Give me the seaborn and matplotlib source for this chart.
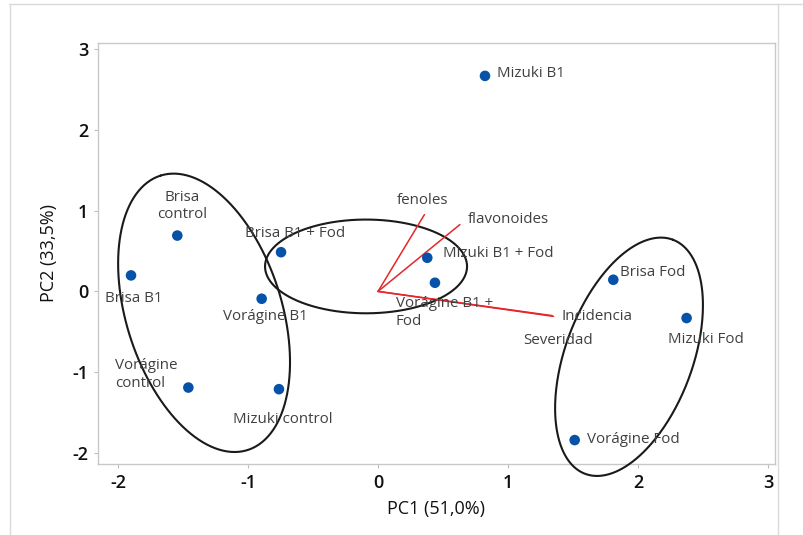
import numpy as np
import pandas as pd
import matplotlib
matplotlib.use("Agg")
import matplotlib.pyplot as plt
from matplotlib.lines import Line2D
import seaborn as sns

# ---------------- data ----------------
samples = ["Mizuki B1", "Brisa control", "Brisa B1", "Brisa B1 + Fod", "Vorágine B1",
           "Mizuki B1 + Fod", "Vorágine B1 + Fod", "Vorágine control", "Mizuki control",
           "Brisa Fod", "Mizuki Fod", "Vorágine Fod"]
sample_labels = ["Mizuki B1", "Brisa\ncontrol", "Brisa B1", "Brisa B1 + Fod", "Vorágine B1",
                 "Mizuki B1 + Fod", "Vorágine B1 +\nFod", "Vorágine\ncontrol", "Mizuki control",
                 "Brisa Fod", "Mizuki Fod", "Vorágine Fod"]
pc1 = [0.823, -1.544, -1.900, -0.746, -0.895, 0.379, 0.438, -1.459, -0.762, 1.810, 2.374, 1.513]
pc2 = [2.667, 0.691, 0.198, 0.485, -0.091, 0.416, 0.107, -1.190, -1.210, 0.144, -0.330, -1.840]

variables = ["fenoles", "flavonoides", "Incidencia", "Severidad"]
load_pc1 = [0.357, 0.630, 1.350, 1.340]
load_pc2 = [0.950, 0.827, -0.309, -0.300]

x_ticks = [-2, -1, 0, 1, 2, 3]
y_ticks = [-2, -1, 0, 1, 2, 3]
x_label = "PC1 (51,0%)"
y_label = "PC2 (33,5%)"

# ---------------- layout (offsets in pixels) ----------------
sample_offsets = [(12, 2, "left"), (5, 29.5, "center"), (3, -23, "center"), (14, 19, "center"),
                  (4, -18, "center"), (16, 4, "left"), (-39, -29.5, "left"), (-73, 13, "left"),
                  (-46, -30, "left"), (7, 7, "left"), (-19, -21, "left"), (12, 1, "left")]
var_offsets = [(-28, 14), (8, 5), (8, 0), (-29, -25)]

# ellipses: center, semi-axis vector u, semi-axis vector v (data units)
ellipses = [
    ((-1.338, -0.265), (-0.335, 1.698), (0.570, 0.290)),
    ((-0.092, 0.309), (0.777, 0.0), (0.0, 0.580)),
    ((1.931, -0.809), (0.337, 1.449), (0.458, -0.275)),
]

sns.set_style("white")
plt.rcParams["font.family"] = ["Open Sans", "DejaVu Sans"]

fig = plt.figure(figsize=(8.04, 5.35), dpi=100)
ax = fig.add_axes([98 / 804, 1 - 464 / 535, (775 - 98) / 804, (464 - 43) / 535])

df = pd.DataFrame({"PC1": pc1, "PC2": pc2, "muestra": samples})
sns.scatterplot(data=df, x="PC1", y="PC2", ax=ax, color="#0652A8", s=58,
                edgecolor="none", zorder=5, legend=False)

lab_fs = 10.9
for i, lab in enumerate(sample_labels):
    dx, dy, ha = sample_offsets[i]
    ax.annotate(lab, (pc1[i], pc2[i]), xytext=(dx, dy), textcoords="offset pixels",
                ha=ha, va="center", fontsize=lab_fs, color="#404040",
                multialignment=ha, linespacing=1.25, zorder=6)

for i, v in enumerate(variables):
    ax.plot([0, load_pc1[i]], [0, load_pc2[i]], color="#E5262B", lw=1.1, zorder=4)
    dx, dy = var_offsets[i]
    ax.annotate(v, (load_pc1[i], load_pc2[i]), xytext=(dx, dy), textcoords="offset pixels",
                ha="left", va="center", fontsize=lab_fs, color="#404040", zorder=6)

t = np.linspace(0, 2 * np.pi, 400)
for (cx, cy), (ux, uy), (vx, vy) in ellipses:
    ex = cx + ux * np.cos(t) + vx * np.sin(t)
    ey = cy + uy * np.cos(t) + vy * np.sin(t)
    ax.plot(ex, ey, color="#1a1a1a", lw=1.5, zorder=3, clip_on=False)

ax.set_xlim(-2.154, 3.054)
ax.set_ylim(-2.136, 3.074)
ax.set_xticks(x_ticks)
ax.set_yticks(y_ticks)
ax.set_xticklabels([str(v) for v in x_ticks])
ax.set_yticklabels([str(v) for v in y_ticks])
ax.tick_params(axis="both", length=3, width=0.8, color="#BDBDBD", labelsize=13,
               labelcolor="#111111", pad=4, direction="out")
ax.tick_params(bottom=True, left=True)
for lbl in ax.get_xticklabels() + ax.get_yticklabels():
    lbl.set_fontweight("semibold")
for sp in ax.spines.values():
    sp.set_color("#C8C8C8")
    sp.set_linewidth(1.0)
ax.set_xlabel(x_label, fontsize=13, color="#111111", labelpad=6, fontweight="medium")
ax.set_ylabel(y_label, fontsize=13, color="#111111", labelpad=10, fontweight="medium")

# outer frame lines of the picture
fig.add_artist(Line2D([9 / 804, 1.0], [1 - 4 / 535, 1 - 4 / 535], color="#DADADA", lw=1,
                      transform=fig.transFigure))
fig.add_artist(Line2D([10 / 804, 10 / 804], [0, 1 - 4 / 535], color="#DADADA", lw=1,
                      transform=fig.transFigure))
fig.add_artist(Line2D([778 / 804, 778 / 804], [0, 1 - 4 / 535], color="#DADADA", lw=1,
                      transform=fig.transFigure))

fig.savefig("out.png", dpi=100)
